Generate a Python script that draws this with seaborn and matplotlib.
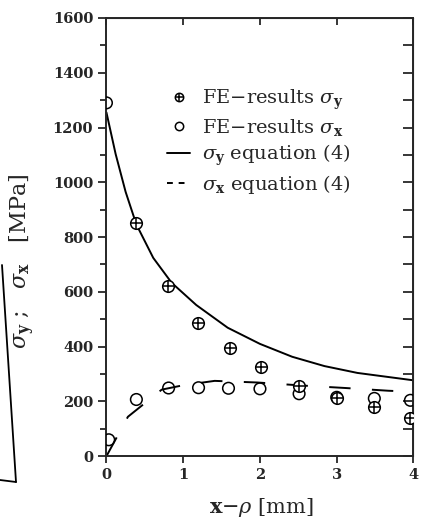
import matplotlib
matplotlib.use('Agg')
import matplotlib.pyplot as plt
from matplotlib.lines import Line2D
from matplotlib.ticker import MultipleLocator
import pandas as pd
import seaborn as sns

# FE results, sigma_y (crossed circles)
fe_sy_pos = [0.39, 0.80, 1.19, 1.61, 2.01, 2.51, 3.00, 3.49, 3.96]
fe_sy_val = [852, 620, 485, 394, 325, 257, 213, 178, 138]

# FE results, sigma_x (open circles)
fe_sx_pos = [0.0, 0.03, 0.39, 0.81, 1.20, 1.59, 2.00, 2.51, 3.00, 3.49, 3.96]
fe_sx_val = [1290, 60, 207, 249, 250, 248, 246, 228, 215, 211, 204]

# equation (4) curves
eq_sy_pos = [0.0, 0.12, 0.25, 0.39, 0.61, 0.85, 1.17, 1.58, 2.0, 2.42, 2.84, 3.27, 4.0]
eq_sy_val = [1255, 1103, 965, 846, 724, 633, 552, 469, 410, 363, 329, 304, 277]
eq_sx_pos = [0.0, 0.28, 0.72, 1.0, 1.41, 1.97, 2.55, 3.11, 3.67, 4.0]
eq_sx_val = [0, 144, 243, 259, 275, 269, 258, 249, 239, 235]

labels = [r'FE$-$results $\sigma_\mathbf{y}$', r'FE$-$results $\sigma_\mathbf{x}$',
          r'$\sigma_\mathbf{y}$ equation (4)', r'$\sigma_\mathbf{x}$ equation (4)']

sns.set_style('ticks')
plt.rcParams['font.family'] = ['DejaVu Serif']
plt.rcParams['mathtext.fontset'] = 'dejavuserif'

fe_sy = pd.DataFrame({'x': fe_sy_pos, 'v': fe_sy_val})
fe_sx = pd.DataFrame({'x': fe_sx_pos, 'v': fe_sx_val})
eq_sy = pd.DataFrame({'x': eq_sy_pos, 'v': eq_sy_val})
eq_sx = pd.DataFrame({'x': eq_sx_pos, 'v': eq_sx_val})

fig = plt.figure(figsize=(4.38, 5.28), dpi=100)
ax = fig.add_axes([0.243, 0.136, 0.701, 0.830])

sns.lineplot(data=eq_sy, x='x', y='v', ax=ax, color='black', lw=1.4,
             sort=False, estimator=None)
sns.lineplot(data=eq_sx, x='x', y='v', ax=ax, color='black', lw=1.4,
             sort=False, estimator=None, linestyle=(0, (11, 11)))
sns.scatterplot(data=fe_sx, x='x', y='v', ax=ax, marker='o', s=70,
                facecolor='none', edgecolor='black', linewidth=1.1, zorder=3)
sns.scatterplot(data=fe_sy, x='x', y='v', ax=ax, marker='o', s=70,
                facecolor='white', edgecolor='black', linewidth=1.1, zorder=4)
sns.scatterplot(data=fe_sy, x='x', y='v', ax=ax, marker='+', s=70,
                color='black', linewidth=1.1, zorder=5)

ax.set_xlim(0, 4)
ax.set_ylim(0, 1600)
ax.xaxis.set_major_locator(MultipleLocator(1))
ax.yaxis.set_major_locator(MultipleLocator(200))
ax.yaxis.set_minor_locator(MultipleLocator(100))
for s in ax.spines.values():
    s.set_linewidth(1.4)
    s.set_visible(True)
ax.tick_params(axis='y', which='major', direction='out', length=6, width=1.3,
               labelsize=10.5, right=False)
ax.tick_params(axis='y', which='minor', direction='out', length=4, width=1.3, right=False)
ax.tick_params(axis='x', direction='out', length=5, width=1.3, labelsize=10.5, top=False)
for t in ax.get_xticklabels() + ax.get_yticklabels():
    t.set_fontweight('bold')

sec_r = ax.secondary_yaxis('right')
sec_r.yaxis.set_major_locator(MultipleLocator(100))
sec_r.tick_params(direction='in', length=7, width=1.3, labelright=False)
sec_t = ax.secondary_xaxis('top')
sec_t.xaxis.set_major_locator(MultipleLocator(1))
sec_t.tick_params(direction='in', length=5, width=1.3, labeltop=False)

ax.set_xlabel(r'$\mathbf{x}$$-\rho$ [mm]', fontsize=15)
ax.xaxis.set_label_coords(0.506, -0.091)
ax.set_ylabel(r'$\sigma_\mathbf{y}$ ;   $\sigma_\mathbf{x}$   [MPa]', fontsize=16)
ax.yaxis.set_label_coords(-0.225, 0.445)

h_sy = (Line2D([], [], ls='none', marker='o', ms=6, mfc='white', mec='black', mew=1.1),
        Line2D([], [], ls='none', marker='+', ms=6, color='black', mew=1.1))
h_sx = Line2D([], [], ls='none', marker='o', ms=6, mfc='none', mec='black', mew=1.1)
h_l1 = Line2D([], [], color='black', lw=1.4)
h_l2 = Line2D([], [], color='black', lw=1.4, linestyle=(0, (3, 3)))
ax.legend([h_sy, h_sx, h_l1, h_l2], labels, loc='upper left',
          bbox_to_anchor=(0.14, 0.88), frameon=False, fontsize=14,
          handlelength=1.2, handletextpad=0.6, labelspacing=0.25)

# edge of the neighbouring figure on the scanned page
fig.add_artist(Line2D([2 / 438, 16 / 438], [1 - 265 / 528, 1 - 482 / 528],
                      color='black', lw=1.3))
fig.add_artist(Line2D([0 / 438, 16 / 438], [1 - 480 / 528, 1 - 482 / 528],
                      color='black', lw=1.3))

fig.savefig('out.png', dpi=100)
